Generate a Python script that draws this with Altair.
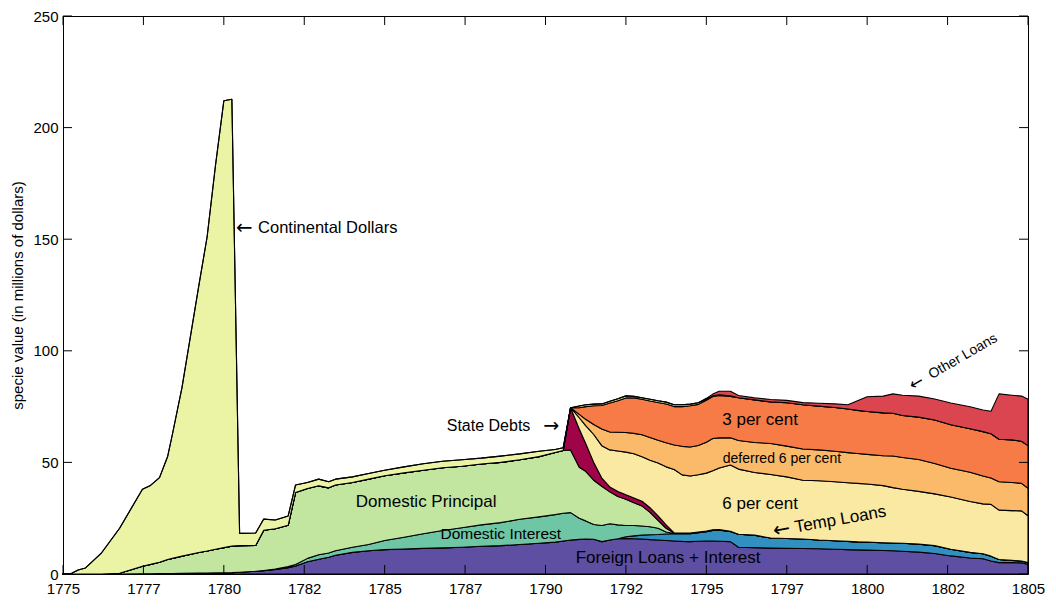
import altair as alt
import pandas as pd

# ---------------- data ----------------
years = [1775.0, 1775.27, 1775.47, 1775.7, 1776.2, 1776.76, 1777.47, 1777.72, 1778.0, 1778.25,
         1778.4, 1778.7, 1779.22, 1779.48, 1779.74, 1780.0, 1780.25, 1780.49, 1780.99, 1781.24,
         1781.6, 1782.0, 1782.23, 1782.6, 1782.95, 1783.26, 1783.47, 1784.0, 1784.5, 1785.0,
         1785.6, 1786.2, 1786.8, 1787.4, 1788.0, 1788.6, 1789.2, 1789.8, 1790.3, 1790.55,
         1790.78, 1791.05, 1791.25, 1791.5, 1791.75, 1792.0, 1792.25, 1792.5, 1792.75, 1793.0,
         1793.25, 1793.5, 1793.75, 1794.0, 1794.25, 1794.5, 1794.75, 1795.0, 1795.2, 1795.4,
         1795.75, 1796.0, 1796.5, 1797.0, 1797.5, 1798.0, 1798.5, 1799.0, 1799.4, 1799.7,
         1800.0, 1800.5, 1800.8, 1801.1, 1801.6, 1802.1, 1802.6, 1803.2, 1803.6, 1803.85,
         1804.1, 1804.5, 1804.8, 1805.0]

Z40 = [0] * 40

foreign = [0, 0, 0, 0, 0, 0, 0.1, 0.1, 0.2, 0.2, 0.2, 0.3, 0.4, 0.4, 0.5, 0.5, 0.6, 0.8, 1.2, 1.5,
           2.0, 2.8, 3.6, 5.5, 6.6, 7.5, 8.4, 9.7, 10.4, 10.9, 11.2, 11.5, 11.7, 12.0, 12.4, 12.7, 13.2, 13.8, 14.3, 14.8,
           15.2, 15.5, 15.7, 15.6, 14.5, 15.2, 15.8, 15.9, 15.8, 15.7, 15.4, 15.2, 15.0, 14.8, 14.6, 14.5, 14.7, 14.8, 14.8, 14.7,
           14.5, 12.0, 11.8, 11.6, 11.5, 11.4, 11.3, 11.1, 10.9, 10.8, 10.7, 10.5, 10.4, 10.2, 9.8, 9.2, 8.1, 7.2, 6.8, 5.8,
           5.1, 5.1, 5.0, 4.3]

temp_loans = Z40 + [0, 0, 0, 0, 0, 0, 0, 0.8, 1.3, 1.7, 2.2, 2.5, 2.9, 3.3, 3.5, 3.6, 3.8, 4.1, 4.7, 4.9,
                    4.6, 5.8, 5.6, 4.5, 4.4, 4.3, 3.9, 3.8, 3.7, 3.6, 3.6, 3.5, 3.5, 3.6, 3.6, 3.5, 3.0, 2.5, 2.3, 2.2,
                    1.4, 1.0, 0.8, 0.8]

dom_interest = [0] * 19 + [0.1, 0.2, 0.5, 0.7, 1.5, 2.0, 1.9, 2.0, 2.3, 2.8, 4.1, 5.3, 6.5, 7.8, 8.7, 9.6,
                           10.3, 11.3, 11.8, 12.3, 12.4] + \
               [12.3, 9.5, 8.1, 6.6, 7.2, 7.3, 6.2, 5.0, 4.6, 4.1, 3.6, 2.8, 0.9] + [0] * 31

dom_principal = [0, 0, 0, 0, 0, 0.3, 3.4, 4.2, 5.1, 6.3, 6.8, 7.7, 9.2, 9.9, 10.6, 11.3, 11.9, 11.9, 11.6, 18.0,
                 18.1, 18.5, 32.2, 31.3, 30.9, 29.2, 29.5, 29.0, 29.3, 29.0, 28.8, 28.5, 28.1, 27.6, 27.3, 27.0, 26.7, 27.0, 27.8, 28.1,
                 28.1, 22.8, 22.2, 19.8, 17.6, 14.3, 12.7, 11.8, 10.2, 9.0, 6.4, 3.5, 1.7, 0.3, 0.3, 0.3, 0.3, 0.3, 0.3, 0.3] + [0] * 24

state_debts = Z40 + [18.9, 17.2, 12.5, 8.0, 3.7, 2.2, 2.3, 2.0, 2.2, 2.1, 2.1, 2.0, 1.5] + [0] * 31

six_pc = Z40 + [0, 5.0, 8.0, 12.5, 14.5, 16.6, 18.1, 19.1, 19.8, 19.9, 21.3, 23.7, 26.0, 28.4, 26.0, 25.5, 25.7, 26.0, 26.5, 27.6,
                29.7, 29.2, 28.1, 28.5, 27.6, 26.3, 26.6, 26.4, 26.3, 26.2, 26.0, 25.6, 24.8, 24.2, 23.6, 23.2, 23.4, 22.8, 22.3, 23.2,
                22.1, 22.3, 22.5, 21.0]

deferred_pc = Z40 + [0, 1.5, 2.8, 4.5, 7.5, 8.0, 8.4, 8.8, 9.1, 9.9, 10.2, 10.2, 10.8, 11.0, 12.8, 13.0, 13.1, 13.8, 14.4, 13.5,
                     12.2, 12.8, 13.4, 13.9, 13.8, 14.0, 13.8, 13.7, 13.5, 13.4, 13.3, 13.4, 14.2, 14.2, 14.3, 13.6, 12.9, 13.1, 12.5, 11.8,
                     12.7, 12.6, 12.3, 12.3]

three_pc = Z40 + [0, 3.0, 5.7, 8.4, 10.5, 13.0, 14.1, 15.5, 15.9, 15.9, 16.3, 16.9, 17.4, 17.2, 17.8, 18.5, 18.4, 18.8, 18.8, 19.0,
                  18.5, 19.2, 19.1, 18.6, 19.4, 19.8, 19.6, 19.6, 19.5, 19.3, 19.2, 19.2, 19.1, 18.8, 19.0, 19.5, 19.5, 19.5, 19.9, 19.8,
                  19.1, 19.1, 18.9, 19.1]

continental = [0, 0.3, 1.8, 2.7, 9.5, 20.2, 34.5, 35.4, 37.9, 46.0, 55.5, 75.6, 119.4, 140.7, 171.9, 200.2, 200.2, 5.5, 5.6, 5.0,
               3.9, 4.2, 3.4, 2.7, 3.0, 2.7, 2.6, 2.5, 2.5, 2.5, 2.7, 2.9, 2.9, 2.9, 2.6, 2.8, 2.6, 2.4, 1.4, 1.3,
               0, 0.8, 0.8, 0.7, 0.7, 0.8, 0.9, 0.9, 0.7, 0.7, 0.8, 0.8, 0.8, 0.8, 0.8, 0.7, 0.7, 0.5, 0.3, 0.3,
               0.3] + [0] * 23

other_loans = Z40 + [0] * 17 + [0.4, 0.8, 1.6, 2.1, 1.0, 0.9, 1.1, 1.1, 1.0, 1.3, 1.6, 1.9, 4.3, 6.6, 7.5, 8.7, 9.1, 9.4,
                                9.4, 9.7, 9.8, 9.7, 10.1, 20.3, 20.0, 20.2, 20.8]

series_names = ["Foreign Loans + Interest", "Temp Loans", "Domestic Interest", "Domestic Principal",
                "State Debts", "6 per cent", "deferred 6 per cent", "3 per cent",
                "Continental Dollars", "Other Loans"]
series_values = [foreign, temp_loans, dom_interest, dom_principal, state_debts, six_pc,
                 deferred_pc, three_pc, continental, other_loans]
series_colors = ["#5e4fa2", "#3290c0", "#6ec6a5", "#c2e6a0", "#a00448", "#f9e9a3",
                 "#fbb96a", "#f67b46", "#ebf4a5", "#da4550"]

x_ticks = [1775, 1777.5, 1780, 1782.5, 1785, 1787.5, 1790, 1792.5, 1795, 1797.5, 1800, 1802.5, 1805]
y_ticks = [0, 50, 100, 150, 200, 250]

# plain text annotations (centred)
center_labels = {
    "text": ["Domestic Principal", "Domestic Interest", "Foreign Loans + Interest", "3 per cent",
             "deferred 6 per cent", "6 per cent"],
    "year": [1786.29, 1788.61, 1793.81, 1796.67, 1797.35, 1796.67],
    "value": [32.2, 18.1, 7.3, 68.9, 51.7, 31.2],
    "size": [17, 15.5, 17, 17, 14, 17],
    "angle": [0, 0, 0, 0, 0, 0],
}
# arrow annotations: anchor at the arrow, text offset along the baseline
left_arrow_labels = {
    "text": ["Continental Dollars", "Temp Loans", "Other Loans"],
    "year": [1780.38, 1797.08, 1801.35],
    "value": [154.8, 19.1, 83.9],
    "size": [16.5, 17, 14],
    "angle": [0, 350, 330],
}
right_arrow_labels = {"text": ["State Debts"], "year": [1790.43], "value": [66.5], "size": [16], "angle": [0]}

# ---------------- build ----------------
for v in series_values:
    assert len(v) == len(years), len(v)

rows = []
for i, (name, vals) in enumerate(zip(series_names, series_values)):
    for yr, v in zip(years, vals):
        rows.append({"year": yr, "value": v, "series": name, "order": i})
df = pd.DataFrame(rows)

W, H = 965, 558
FONT = "Liberation Sans"
ARROW_FONT = "DejaVu Sans"
TICK = 9

xscale = alt.Scale(domain=[1775, 1805], nice=False, zero=False)
yscale = alt.Scale(domain=[0, 250], nice=False)

x_axis = alt.Axis(values=x_ticks, labelExpr="'' + floor(datum.value)", ticks=False, domain=False,
                  grid=False, title=None, labelFontSize=15, labelPadding=7, labelColor="black",
                  labelFont=FONT, labelFlush=False)
y_axis = alt.Axis(values=y_ticks, ticks=False, domain=False, grid=False,
                  title="specie value (in millions of dollars)", titleFont=FONT, titleFontSize=15,
                  titleFontWeight="normal", titleColor="black", titlePadding=7,
                  labelFontSize=15, labelPadding=5, labelColor="black", labelFont=FONT,
                  labelFlush=False)


def X(field="year"):
    return alt.X(f"{field}:Q", scale=xscale, axis=x_axis)


def Y(field="value", **kw):
    return alt.Y(f"{field}:Q", scale=yscale, axis=y_axis, **kw)


areas = alt.Chart(df).mark_area(
    stroke="black", strokeWidth=1.1, fillOpacity=1, strokeJoin="round"
).encode(
    x=X(),
    y=Y(stack="zero"),
    color=alt.Color("series:N", scale=alt.Scale(domain=series_names, range=series_colors), legend=None),
    order=alt.Order("order:Q", sort="ascending"),
)

xt = pd.DataFrame({"year": x_ticks})
yt = pd.DataFrame({"value": y_ticks})

tick_bottom = alt.Chart(xt).mark_rule(color="black", strokeWidth=1).encode(
    x=X(), y=alt.value(H), y2=alt.value(H - TICK))
tick_top = alt.Chart(xt).mark_rule(color="black", strokeWidth=1).encode(
    x=X(), y=alt.value(0), y2=alt.value(TICK))
tick_left = alt.Chart(yt).mark_rule(color="black", strokeWidth=1).encode(
    y=Y(), x=alt.value(0), x2=alt.value(TICK))
tick_right = alt.Chart(yt).mark_rule(color="black", strokeWidth=1).encode(
    y=Y(), x=alt.value(W - TICK), x2=alt.value(W))


def text_layer(d, align, font=FONT, dx=0, text_field="text", size_field="size"):
    return alt.Chart(pd.DataFrame(d)).mark_text(
        align=align, baseline="middle", font=font, color="black", dx=dx
    ).encode(
        x=X(), y=Y(),
        text=alt.Text(f"{text_field}:N"),
        size=alt.Size(f"{size_field}:Q", scale=None, legend=None),
        angle=alt.Angle("angle:Q", scale=None, legend=None),
    )


def with_arrow(d, glyph):
    out = dict(d)
    out["arrow"] = [glyph] * len(d["text"])
    out["asize"] = [s * 1.2 for s in d["size"]]
    return out


left_df = with_arrow(left_arrow_labels, "←")
right_df = with_arrow(right_arrow_labels, "→")

labels_center = text_layer(center_labels, "center")
labels_left = text_layer(left_df, "left", dx=22)
arrows_left = text_layer(left_df, "left", font=ARROW_FONT, text_field="arrow", size_field="asize")
labels_right = text_layer(right_df, "right", dx=-29)
arrows_right = text_layer(right_df, "right", font=ARROW_FONT, text_field="arrow", size_field="asize")

chart = alt.layer(
    areas, tick_bottom, tick_top, tick_left, tick_right,
    labels_center, labels_left, arrows_left, labels_right, arrows_right,
).properties(
    width=W, height=H,
    padding={"left": 55, "top": 8, "right": 18, "bottom": 24},
    autosize=alt.AutoSizeParams(type="none"),
    background="white",
).configure_view(stroke="black", strokeWidth=1)

chart.save("out.html", embed_options={"renderer": "svg", "actions": False})
